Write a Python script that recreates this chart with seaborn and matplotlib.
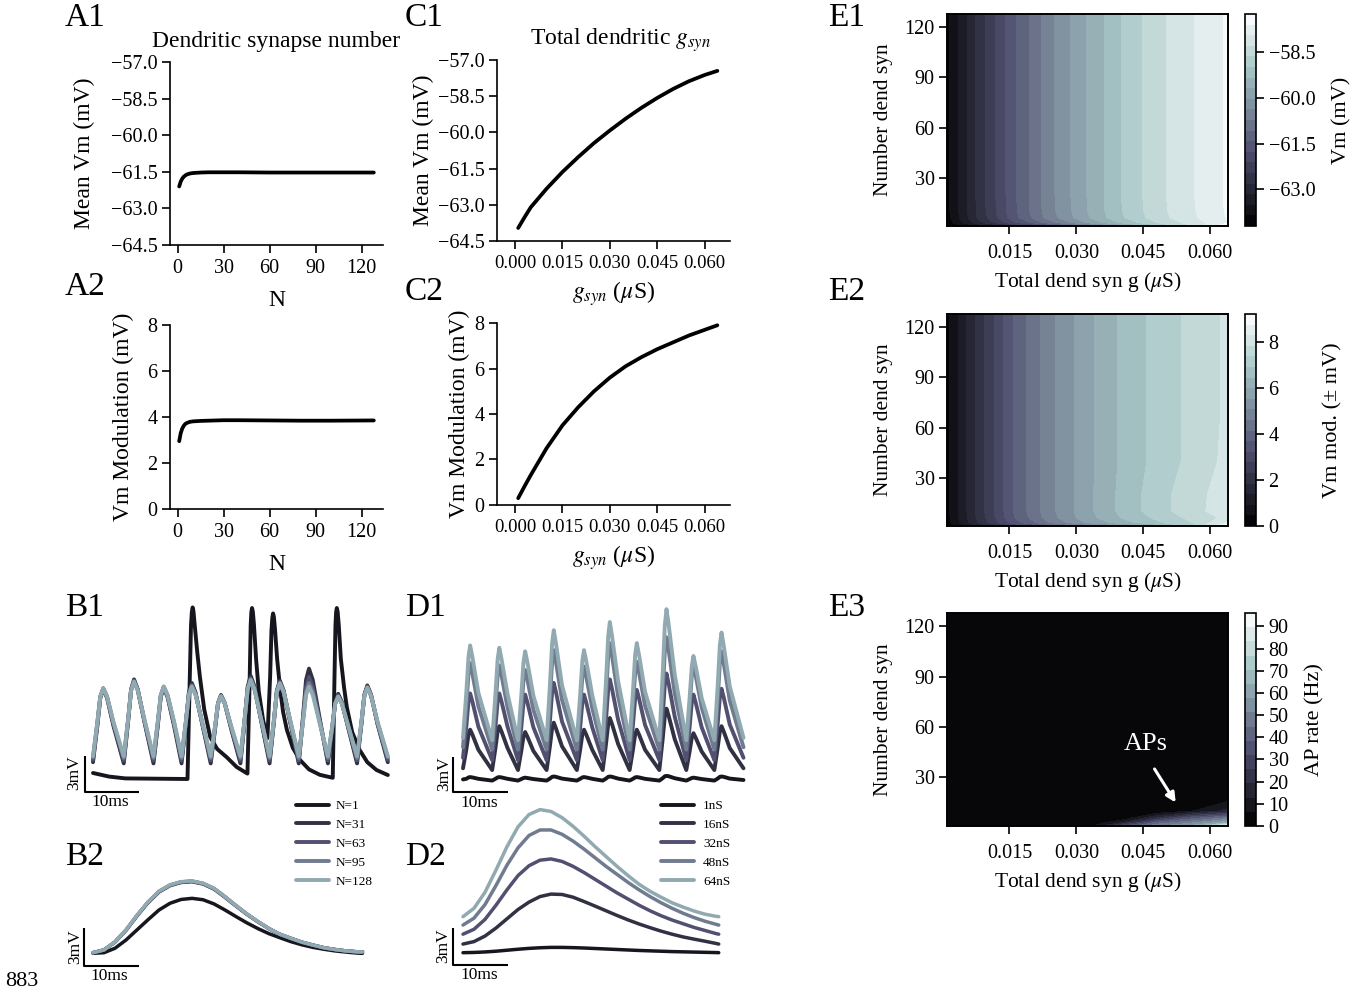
import matplotlib
matplotlib.use("Agg")
import matplotlib.pyplot as plt
import numpy as np
import seaborn as sns

# ---------------- data ----------------
# A: dendritic synapse number
syn_n = [1, 2, 3, 4, 5, 6, 8, 10, 15, 20, 30, 40, 60, 80, 100, 128]
mean_vm_n = [-62.10, -61.90, -61.78, -61.70, -61.65, -61.61, -61.57, -61.55,
             -61.53, -61.52, -61.52, -61.52, -61.53, -61.53, -61.53, -61.53]
vm_mod_n = [2.95, 3.30, 3.50, 3.62, 3.70, 3.74, 3.79, 3.81,
            3.83, 3.84, 3.86, 3.86, 3.85, 3.84, 3.84, 3.85]

# C: total dendritic g_syn (uS)
gsyn = [0.001, 0.003, 0.005, 0.010, 0.015, 0.020, 0.025, 0.030,
        0.035, 0.040, 0.045, 0.050, 0.055, 0.060, 0.064]
mean_vm_g = [-63.96, -63.52, -63.10, -62.33, -61.64, -61.02, -60.44, -59.92,
             -59.43, -58.98, -58.57, -58.20, -57.88, -57.62, -57.45]
vm_mod_g = [0.30, 0.82, 1.32, 2.50, 3.50, 4.30, 5.00, 5.60,
            6.10, 6.50, 6.85, 7.15, 7.45, 7.70, 7.90]

# B1: example traces (ms, mV relative to N=1 rest)
b1_labels = ["N=1", "N=31", "N=63", "N=95", "N=128"]
b1_t_n1 = [0.0, 3.0, 6.0, 17.5, 17.9, 18.15, 18.3, 18.45, 18.6, 18.8, 19.3, 19.8, 20.6, 21.7,
           23.0, 24.8, 26.6, 28.6, 29.0, 29.2, 29.32, 29.45, 29.6, 29.8, 30.2, 30.7, 31.5, 32.3,
           32.8, 33.05, 33.2, 33.35, 33.5, 33.7, 34.1, 34.7, 35.2, 35.9, 37.0, 38.3, 40.0, 42.0,
           44.4, 44.7, 44.9, 45.02, 45.15, 45.3, 45.5, 45.9, 46.5, 47.0, 48.0, 49.4, 50.8, 52.5, 54.6]
b1_n1 = [0.5, 0.2, 0.05, 0.0, 8.0, 12.8, 13.9, 14.3, 14.0, 13.0, 10.6, 8.5, 5.8, 3.5,
         2.5, 1.8, 1.0, 0.45, 8.0, 12.8, 13.9, 14.25, 13.95, 12.9, 10.0, 7.3, 4.9, 3.4,
         8.5, 12.4, 13.4, 13.8, 13.5, 12.5, 10.0, 7.3, 5.6, 4.1, 2.6, 1.6, 0.8, 0.35,
         0.1, 8.0, 12.8, 13.9, 14.25, 13.95, 12.9, 10.0, 7.6, 6.0, 3.9, 2.4, 1.4, 0.75, 0.33]
b1_t = [0.0, 0.8, 1.35, 1.9, 2.6, 3.8, 5.7, 6.5, 7.05, 7.6, 8.3, 9.5,
        11.2, 12.0, 12.55, 13.1, 13.8, 15.0, 16.4, 17.2, 17.75, 18.3, 19.0, 20.2,
        21.8, 22.6, 23.15, 23.7, 24.4, 25.6, 27.3, 28.1, 28.65, 29.2, 29.9, 31.1,
        32.7, 33.5, 34.05, 34.6, 35.3, 36.5, 38.1, 38.9, 39.45, 40.0, 40.7, 41.9,
        43.5, 44.3, 44.85, 45.4, 46.1, 47.3, 48.9, 49.7, 50.25, 50.8, 51.5, 52.7, 54.6]
b1_n31 = [1.4, 4.4, 6.76, 7.5, 6.76, 4.4, 1.3, 4.8, 7.46, 8.3, 7.46, 4.8,
          1.3, 4.45, 6.84, 7.6, 6.84, 4.45, 1.3, 4.65, 7.2, 8.0, 7.2, 4.65,
          1.3, 4.15, 6.32, 7.0, 6.32, 4.15, 1.3, 4.95, 7.72, 8.6, 7.72, 4.95,
          1.3, 4.75, 7.37, 8.2, 7.37, 4.75, 1.3, 5.25, 8.25, 9.2, 8.25, 5.25,
          1.3, 4.2, 6.4, 7.1, 6.4, 4.2, 1.3, 4.55, 7.02, 7.8, 7.02, 4.55, 1.4]
b1_n63 = [1.6, 4.55, 6.83, 7.55, 6.83, 4.55, 1.55, 4.88, 7.4, 8.2, 7.4, 4.88,
          1.55, 4.6, 6.92, 7.65, 6.92, 4.6, 1.55, 4.7, 7.09, 7.85, 7.09, 4.7,
          1.55, 4.25, 6.3, 6.95, 6.3, 4.25, 1.55, 4.98, 7.58, 8.4, 7.58, 4.98,
          1.55, 4.83, 7.31, 8.1, 7.31, 4.83, 1.55, 5.03, 7.67, 8.5, 7.67, 5.03,
          1.55, 4.25, 6.3, 6.95, 6.3, 4.25, 1.55, 4.63, 6.96, 7.7, 6.96, 4.63, 1.6]
b1_n95 = [1.8, 4.65, 6.85, 7.55, 6.85, 4.65, 1.75, 4.95, 7.38, 8.15, 7.38, 4.95,
          1.75, 4.73, 6.99, 7.7, 6.99, 4.73, 1.75, 4.75, 7.03, 7.75, 7.03, 4.75,
          1.75, 4.33, 6.28, 6.9, 6.28, 4.33, 1.75, 5.03, 7.51, 8.3, 7.51, 5.03,
          1.75, 4.88, 7.25, 8.0, 7.25, 4.88, 1.75, 4.88, 7.25, 8.0, 7.25, 4.88,
          1.75, 4.33, 6.28, 6.9, 6.28, 4.33, 1.75, 4.7, 6.94, 7.65, 6.94, 4.7, 1.8]
b1_n128 = [1.9, 4.73, 6.88, 7.56, 6.88, 4.73, 1.9, 5.0, 7.36, 8.1, 7.36, 5.0,
           1.9, 4.8, 7.0, 7.7, 7.0, 4.8, 1.9, 4.8, 7.0, 7.7, 7.0, 4.8,
           1.9, 4.4, 6.3, 6.9, 6.3, 4.4, 1.9, 5.08, 7.49, 8.25, 7.49, 5.08,
           1.9, 4.94, 7.24, 7.97, 7.24, 4.94, 1.9, 4.8, 7.0, 7.7, 7.0, 4.8,
           1.9, 4.38, 6.26, 6.86, 6.26, 4.38, 1.9, 4.75, 6.92, 7.6, 6.92, 4.75, 1.9]

# B2: cycle averaged traces
b2_t = [0, 2, 4, 6, 8, 10, 12, 14, 16, 18, 20, 22, 24, 26, 28, 30, 32, 34, 36, 38, 40, 42, 44, 46, 48, 49]
b2_n1 = [-0.05, 0.0, 0.35, 1.0, 1.8, 2.6, 3.37, 3.9, 4.2, 4.29, 4.18, 3.85, 3.37, 2.85, 2.35,
         1.9, 1.5, 1.18, 0.87, 0.62, 0.42, 0.27, 0.14, 0.05, -0.03, -0.05]
b2_n31 = [0.0, 0.21, 0.83, 1.76, 2.9, 3.94, 4.79, 5.29, 5.54, 5.6, 5.42, 5.02, 4.37, 3.68, 3.02,
          2.43, 1.89, 1.44, 1.12, 0.82, 0.6, 0.39, 0.25, 0.14, 0.07, 0.06]
b2_n63 = [0.0, 0.22, 0.85, 1.78, 2.93, 3.98, 4.83, 5.33, 5.58, 5.64, 5.46, 5.06, 4.41, 3.71, 3.04,
          2.44, 1.9, 1.45, 1.13, 0.83, 0.6, 0.39, 0.25, 0.14, 0.07, 0.06]
b2_n95 = [0.0, 0.22, 0.85, 1.79, 2.94, 3.99, 4.84, 5.34, 5.59, 5.65, 5.47, 5.07, 4.42, 3.72, 3.05,
          2.45, 1.9, 1.45, 1.13, 0.83, 0.6, 0.39, 0.25, 0.14, 0.07, 0.06]
b2_n128 = [0.0, 0.22, 0.85, 1.79, 2.95, 4.0, 4.85, 5.35, 5.6, 5.66, 5.48, 5.08, 4.42, 3.72, 3.05,
           2.45, 1.9, 1.45, 1.13, 0.83, 0.6, 0.39, 0.25, 0.14, 0.07, 0.06]

# D1: example traces for total g
d1_labels = ["1nS", "16nS", "32nS", "48nS", "64nS"]
d1_t = [0.0, 0.6, 1.0, 1.3, 1.7, 2.8, 5.3, 5.9, 6.3, 6.6, 7.0, 8.1,
        10.0, 10.6, 11.0, 11.3, 11.7, 12.8, 15.2, 15.8, 16.2, 16.5, 16.9, 18.0,
        20.7, 21.3, 21.7, 22.0, 22.4, 23.5, 25.4, 26.0, 26.4, 26.7, 27.1, 28.2,
        30.3, 30.9, 31.3, 31.6, 32.0, 33.1, 35.7, 36.3, 36.7, 37.0, 37.4, 38.5,
        40.6, 41.2, 41.6, 41.9, 42.3, 43.4, 45.7, 46.3, 46.7, 47.0, 47.4, 48.5, 51.0]
d1_1ns = [0.05, 0.1, 0.22, 0.25, 0.22, 0.1, -0.05, 0.1, 0.22, 0.25, 0.22, 0.1,
          -0.05, 0.08, 0.17, 0.2, 0.17, 0.08, -0.05, 0.12, 0.27, 0.3, 0.27, 0.12,
          -0.05, 0.1, 0.22, 0.25, 0.22, 0.1, -0.05, 0.12, 0.27, 0.3, 0.27, 0.12,
          -0.05, 0.1, 0.22, 0.25, 0.22, 0.1, -0.05, 0.15, 0.32, 0.35, 0.32, 0.15,
          -0.05, 0.08, 0.17, 0.2, 0.17, 0.08, -0.05, 0.12, 0.27, 0.3, 0.27, 0.12, 0.0]
d1_16ns = [1.0, 2.58, 3.89, 4.3, 3.89, 2.58, 0.85, 2.73, 4.15, 4.6, 4.15, 2.73,
           0.85, 2.48, 3.71, 4.1, 3.71, 2.48, 0.85, 2.88, 4.41, 4.9, 4.41, 2.88,
           0.85, 2.58, 3.89, 4.3, 3.89, 2.58, 0.85, 3.08, 4.77, 5.3, 4.77, 3.08,
           0.85, 2.58, 3.89, 4.3, 3.89, 2.58, 0.85, 3.48, 5.47, 6.1, 5.47, 3.48,
           0.85, 2.43, 3.62, 4.0, 3.62, 2.43, 0.85, 2.73, 4.15, 4.6, 4.15, 2.73, 1.0]
d1_32ns = [1.9, 4.55, 6.72, 7.4, 6.72, 4.55, 1.7, 4.55, 6.72, 7.4, 6.72, 4.55,
           1.7, 4.5, 6.63, 7.3, 6.63, 4.5, 1.7, 5.0, 7.51, 8.3, 7.51, 5.0,
           1.7, 4.5, 6.63, 7.3, 6.63, 4.5, 1.7, 5.15, 7.77, 8.6, 7.77, 5.15,
           1.7, 4.7, 6.98, 7.7, 6.98, 4.7, 1.7, 5.4, 8.21, 9.1, 8.21, 5.4,
           1.7, 4.5, 6.63, 7.3, 6.63, 4.5, 1.7, 4.75, 7.07, 7.8, 7.07, 4.75, 1.9]
d1_48ns = [2.8, 6.3, 9.11, 10.0, 9.11, 6.3, 2.6, 6.2, 8.94, 9.8, 8.94, 6.2,
           2.6, 6.0, 8.58, 9.4, 8.58, 6.0, 2.6, 6.85, 10.08, 11.1, 10.08, 6.85,
           2.6, 6.15, 8.85, 9.7, 8.85, 6.15, 2.6, 7.15, 10.61, 11.7, 10.61, 7.15,
           2.6, 6.35, 9.2, 10.1, 9.2, 6.35, 2.6, 7.4, 11.05, 12.2, 11.05, 7.4,
           2.6, 6.2, 8.94, 9.8, 8.94, 6.2, 2.6, 6.8, 9.99, 11.0, 9.99, 6.8, 2.8]
d1_64ns = [3.6, 7.45, 10.53, 11.5, 10.53, 7.45, 3.4, 7.35, 10.35, 11.3, 10.35, 7.35,
           3.4, 7.2, 10.09, 11.0, 10.09, 7.2, 3.4, 8.1, 11.67, 12.8, 11.67, 8.1,
           3.4, 7.25, 10.18, 11.1, 10.18, 7.25, 3.4, 8.45, 12.29, 13.5, 12.29, 8.45,
           3.4, 7.55, 10.7, 11.7, 10.7, 7.55, 3.4, 9.0, 13.26, 14.6, 13.26, 9.0,
           3.4, 7.0, 9.74, 10.6, 9.74, 7.0, 3.4, 8.0, 11.5, 12.6, 11.5, 8.0, 3.6]

# D2: cycle averaged traces for total g
d2_t = [0, 2, 4, 6, 8, 10, 12, 14, 16, 18, 20, 22, 24, 26, 28, 30, 32, 34, 36, 38, 40, 42, 44, 46, 46.5]
d2_1ns = [0.0, 0.02, 0.06, 0.12, 0.2, 0.28, 0.35, 0.4, 0.43, 0.43, 0.41, 0.38, 0.34, 0.3, 0.26,
          0.22, 0.18, 0.15, 0.12, 0.09, 0.07, 0.05, 0.03, 0.01, 0.0]
d2_16ns = [0.7, 0.9, 1.35, 2.0, 2.75, 3.5, 4.1, 4.55, 4.75, 4.72, 4.5, 4.15, 3.78, 3.4, 3.02,
           2.66, 2.33, 2.03, 1.75, 1.5, 1.28, 1.1, 0.93, 0.75, 0.7]
d2_32ns = [1.5, 1.9, 2.7, 3.85, 5.1, 6.25, 7.05, 7.5, 7.6, 7.4, 7.0, 6.5, 5.95, 5.4, 4.85,
           4.35, 3.85, 3.4, 3.0, 2.65, 2.35, 2.05, 1.8, 1.55, 1.5]
d2_48ns = [2.24, 2.8, 3.9, 5.45, 7.1, 8.5, 9.5, 9.95, 9.95, 9.6, 9.05, 8.4, 7.7, 7.0, 6.35,
           5.7, 5.1, 4.55, 4.05, 3.6, 3.2, 2.85, 2.55, 2.3, 2.24]
d2_64ns = [2.92, 3.6, 4.9, 6.7, 8.6, 10.2, 11.2, 11.6, 11.45, 10.95, 10.25, 9.45, 8.6, 7.8, 7.0,
           6.25, 5.55, 4.98, 4.5, 4.05, 3.7, 3.38, 3.12, 2.95, 2.92]

# E: parameter sweeps (rows: number of synapses, columns: total g)
e_g = [0.001, 0.008, 0.016, 0.024, 0.032, 0.040, 0.048, 0.056, 0.064]
e_n = [1, 3, 6, 10, 20, 40, 70, 100, 128]
e1_vm = [
    [-64.20, -63.45, -62.70, -61.95, -61.10, -60.20, -59.20, -58.30, -57.30],
    [-64.05, -62.95, -61.85, -60.90, -60.05, -59.30, -58.65, -58.15, -57.62],
    [-64.00, -62.77, -61.57, -60.57, -59.78, -59.06, -58.47, -58.02, -57.58],
    [-63.97, -62.73, -61.52, -60.52, -59.74, -59.02, -58.44, -58.00, -57.56],
    [-63.96, -62.72, -61.50, -60.50, -59.72, -59.00, -58.42, -57.98, -57.55],
    [-63.96, -62.72, -61.50, -60.50, -59.72, -59.00, -58.42, -57.98, -57.55],
    [-63.96, -62.72, -61.50, -60.50, -59.72, -59.00, -58.42, -57.98, -57.55],
    [-63.96, -62.72, -61.50, -60.50, -59.72, -59.00, -58.42, -57.98, -57.55],
    [-63.96, -62.72, -61.50, -60.50, -59.72, -59.00, -58.42, -57.98, -57.55],
]
e2_mod = [
    [0.20, 1.40, 2.70, 3.70, 4.50, 5.20, 6.00, 7.10, 9.20],
    [0.27, 1.85, 3.45, 4.60, 5.50, 6.20, 6.80, 7.35, 8.30],
    [0.30, 1.95, 3.65, 4.85, 5.75, 6.45, 7.00, 7.50, 7.95],
    [0.30, 2.00, 3.70, 4.90, 5.80, 6.55, 7.15, 7.65, 8.10],
    [0.30, 2.00, 3.70, 4.90, 5.80, 6.55, 7.15, 7.65, 8.05],
    [0.30, 2.00, 3.70, 4.90, 5.80, 6.50, 7.05, 7.50, 7.95],
    [0.30, 2.00, 3.70, 4.90, 5.80, 6.50, 7.05, 7.50, 7.90],
    [0.30, 2.00, 3.70, 4.90, 5.80, 6.50, 7.05, 7.50, 7.90],
    [0.30, 2.00, 3.70, 4.90, 5.80, 6.50, 7.05, 7.50, 7.90],
]
e3_rate = [
    [0, 0, 0, 0, 0, 30, 50, 60, 96],
    [0, 0, 0, 0, 0, 12, 40, 50, 62],
    [0, 0, 0, 0, 0, 0, 18, 35, 45],
    [0, 0, 0, 0, 0, 0, 0, 6, 15],
    [0, 0, 0, 0, 0, 0, 0, 0, 0],
    [0, 0, 0, 0, 0, 0, 0, 0, 0],
    [0, 0, 0, 0, 0, 0, 0, 0, 0],
    [0, 0, 0, 0, 0, 0, 0, 0, 0],
    [0, 0, 0, 0, 0, 0, 0, 0, 0],
]

# ---------------- style ----------------
sns.set_theme(style="ticks")
plt.rcParams.update({
    "font.family": ["Liberation Serif", "DejaVu Serif"],
    "mathtext.fontset": "stix",
    "axes.edgecolor": "black",
    "axes.labelcolor": "black",
    "text.color": "black",
    "xtick.color": "black",
    "ytick.color": "black",
    "axes.linewidth": 1.2,
    "xtick.major.width": 1.2,
    "ytick.major.width": 1.2,
    "xtick.major.size": 6,
    "ytick.major.size": 6,
    "xtick.major.pad": 4,
    "ytick.major.pad": 3,
})

W, H = 1364, 990
fig = plt.figure(figsize=(W / 100, H / 100), dpi=100)
bone = plt.get_cmap("bone")
trace_colors = [bone(v) for v in (0.1, 0.22, 0.36, 0.5, 0.65)]


def px_axes(left, top, right, bottom):
    return fig.add_axes([left / W, 1 - bottom / H, (right - left) / W, (bottom - top) / H])


def curve_panel(box, x, y, xlim, ylim, xticks, yticks, xlabel, ylabel, ylabel_x, xlabel_pad,
                xtick_size=14.5, title=None, title_x=0.5):
    ax = px_axes(*box)
    sns.lineplot(x=x, y=y, ax=ax, color="black", lw=2.7)
    ax.set_xlim(*xlim)
    ax.set_ylim(*ylim)
    ax.set_xticks(xticks)
    ax.set_yticks(yticks)
    ax.tick_params(axis="y", labelsize=14.5)
    ax.tick_params(axis="x", labelsize=xtick_size)
    ax.set_xlabel(xlabel, fontsize=17, labelpad=xlabel_pad)
    ax.set_ylabel(ylabel, fontsize=17)
    ax.yaxis.set_label_coords(ylabel_x, 0.5)
    if title:
        ax.set_title(title, fontsize=17, pad=11, x=title_x)
    sns.despine(ax=ax)
    return ax


def scale_bar(ax, t0, v0, mv_xy, ms_xy):
    ax.plot([t0, t0, t0 + 10], [v0 + 3, v0, v0], color="black", lw=1.5, clip_on=False,
            solid_capstyle="butt")
    ax.text(*mv_xy, "3mV", rotation=90, ha="center", va="center", fontsize=12.5, clip_on=False)
    ax.text(*ms_xy, "10ms", ha="left", va="top", fontsize=12.5, clip_on=False)


# ---------------- A / C ----------------
n_ticks = [0, 30, 60, 90, 120]
g_ticks = [0.000, 0.015, 0.030, 0.045, 0.060]
vm_ticks = [-64.5, -63.0, -61.5, -60.0, -58.5, -57.0]
mod_ticks = [0, 2, 4, 6, 8]

curve_panel((170, 62, 383, 245), syn_n, mean_vm_n, (-5, 134), (-64.5, -57.0), n_ticks, vm_ticks,
            "N", "Mean Vm (mV)", -0.35, 9, title="Dendritic synapse number")
curve_panel((170, 325, 383, 509), syn_n, vm_mod_n, (-5, 134), (0, 8), n_ticks, mod_ticks,
            "N", "Vm Modulation (mV)", -0.17, 9)
curve_panel((497, 60, 730, 241), gsyn, mean_vm_g, (-0.0057, 0.068), (-64.5, -57.0), g_ticks, vm_ticks,
            r"$g_{syn}$ ($\mu$S)", "Mean Vm (mV)", -0.27, 5, xtick_size=13.5,
            title=r"Total dendritic $g_{syn}$", title_x=0.53)
curve_panel((497, 323, 730, 505), gsyn, vm_mod_g, (-0.0057, 0.068), (0, 8), g_ticks, mod_ticks,
            r"$g_{syn}$ ($\mu$S)", "Vm Modulation (mV)", -0.115, 5, xtick_size=13.5)

legend_kw = dict(loc="upper left", bbox_transform=fig.transFigure, frameon=False, fontsize=9.5,
                 handlelength=2.5, labelspacing=0.5, borderpad=0, borderaxespad=0)

# ---------------- B1 ----------------
ax = px_axes(79.5, 593, 395.4, 797)
sns.lineplot(x=b1_t_n1, y=b1_n1, ax=ax, color=trace_colors[0], lw=2.8, label=b1_labels[0])
for vals, col, lab in zip([b1_n31, b1_n63, b1_n95, b1_n128], trace_colors[1:], b1_labels[1:]):
    sns.lineplot(x=b1_t, y=vals, ax=ax, color=col, lw=2.8, label=lab)
ax.set_xlim(-2.5, 56)
ax.set_ylim(-1.5, 15.5)
ax.axis("off")
scale_bar(ax, -1.5, -1.05, (-3.4, 0.5), (-0.2, -1.25))
h, l = ax.get_legend_handles_labels()
ax.legend(h, l, bbox_to_anchor=(296 / W, 1 - 800 / H), handletextpad=0.5, **legend_kw)

# ---------------- B2 ----------------
ax = px_axes(82, 864, 368, 971.7)
for vals, col in zip([b2_n1, b2_n31, b2_n63, b2_n95, b2_n128], trace_colors):
    sns.lineplot(x=b2_t, y=vals, ax=ax, color=col, lw=2.5)
ax.set_xlim(-2, 50)
ax.set_ylim(-1.5, 7)
ax.axis("off")
scale_bar(ax, -1.6, -1.05, (-3.3, 0.45), (-0.4, -1.2))

# ---------------- D1 ----------------
ax = px_axes(449.25, 592.8, 751.75, 797.55)
for vals, col, lab in zip([d1_1ns, d1_16ns, d1_32ns, d1_48ns, d1_64ns], trace_colors, d1_labels):
    sns.lineplot(x=d1_t, y=vals, ax=ax, color=col, lw=2.8, label=lab)
ax.set_xlim(-2.5, 52.5)
ax.set_ylim(-1.5, 16)
ax.axis("off")
scale_bar(ax, -1.8, -1.03, (-3.5, 0.5), (-0.5, -1.25))
h, l = ax.get_legend_handles_labels()
ax.legend(h, l, bbox_to_anchor=(661 / W, 1 - 800 / H), handletextpad=0.7, **legend_kw)

# ---------------- D2 ----------------
ax = px_axes(449.25, 798.5, 727, 971.2)
for vals, col in zip([d2_1ns, d2_16ns, d2_32ns, d2_48ns, d2_64ns], trace_colors):
    sns.lineplot(x=d2_t, y=vals, ax=ax, color=col, lw=2.5)
ax.set_xlim(-2.5, 48)
ax.set_ylim(-1.5, 12.5)
ax.axis("off")
scale_bar(ax, -1.8, -1.0, (-3.6, 0.55), (-0.5, -1.2))


# ---------------- E ----------------
def contour_panel(top, bottom, z, levels, cbar_ticks, cbar_label, cbar_pad):
    ax = px_axes(947, top, 1228, bottom)
    cs = ax.contourf(e_g, e_n, z, levels=levels, cmap="bone")
    ax.set_xlim(0.001, 0.064)
    ax.set_ylim(1, 128)
    ax.set_xticks([0.015, 0.030, 0.045, 0.060])
    ax.set_yticks([30, 60, 90, 120])
    ax.tick_params(labelsize=14.5)
    ax.tick_params(axis="x", pad=7)
    ax.set_xlabel(r"Total dend syn g ($\mu$S)", fontsize=15.5, labelpad=5)
    ax.set_ylabel("Number dend syn", fontsize=15.5, labelpad=8)
    for sp in ax.spines.values():
        sp.set_linewidth(1.4)
    cax = px_axes(1245, top, 1256, bottom)
    cb = fig.colorbar(cs, cax=cax, ticks=cbar_ticks)
    cb.outline.set_linewidth(1.2)
    cb.ax.tick_params(labelsize=14.5, width=1.2, length=6)
    cb.set_label(cbar_label, fontsize=16, labelpad=cbar_pad)
    return ax


contour_panel(14, 226, e1_vm, np.linspace(-64.2, -57.26, 21), [-63.0, -61.5, -60.0, -58.5],
              "Vm (mV)", 12)
contour_panel(314, 526, e2_mod, np.linspace(0, 9.2, 21), [0, 2, 4, 6, 8],
              "Vm mod. (\u00b1 mV)", 32)
ax = contour_panel(613, 826, e3_rate, np.linspace(0, 96, 16), list(range(0, 91, 10)),
                   "AP rate (Hz)", 12)
ax.annotate("", xy=(0.0526, 13.6), xytext=(0.0472, 36.4),
            arrowprops=dict(arrowstyle="-|>", color="white", lw=2.2, mutation_scale=14))
ax.text(0.0456, 49.6, "APs", color="white", fontsize=19, ha="center", va="center")

# ---------------- panel letters ----------------
letters = [("A1", 65, 18), ("A2", 65, 287), ("B1", 65, 608), ("B2", 65, 857),
           ("C1", 405, 18), ("C2", 405, 292), ("D1", 405, 608), ("D2", 405, 857),
           ("E1", 828, 18), ("E2", 828, 292), ("E3", 828, 608)]
for txt, x, y in letters:
    fig.text(x / W, 1 - y / H, txt, fontsize=24, ha="left", va="center")
fig.text(5 / W, 1 - 982 / H, "883", fontsize=16, ha="left", va="center")

fig.savefig("out.png", dpi=100)
